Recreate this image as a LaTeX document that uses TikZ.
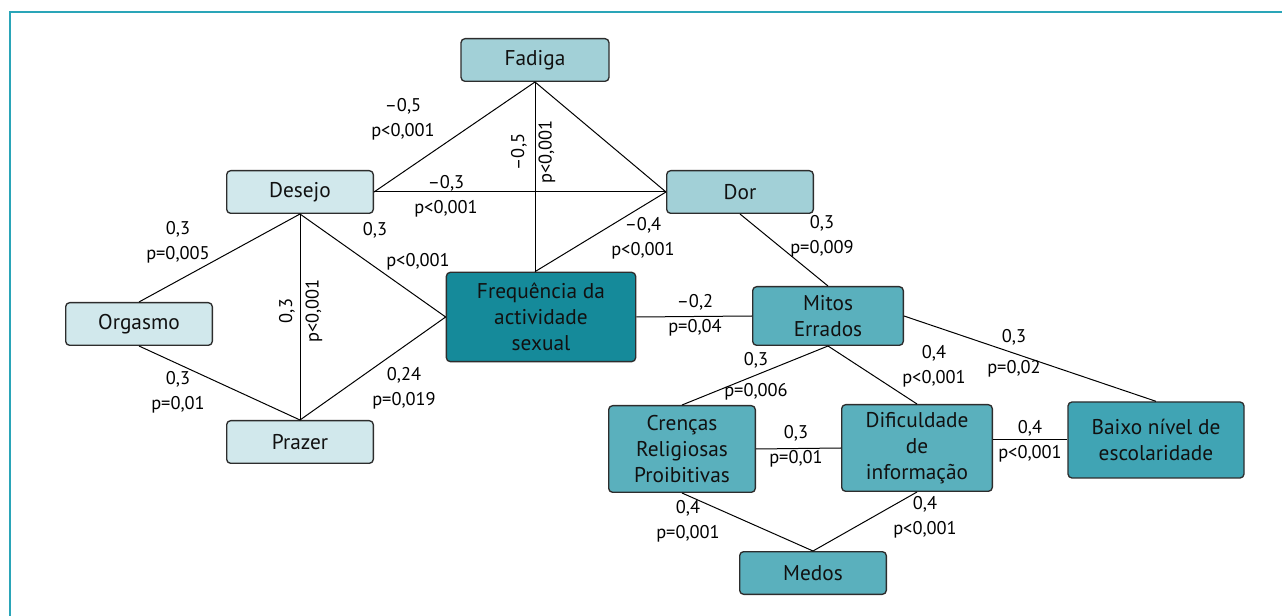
\documentclass[tikz,border=0pt]{standalone}
\usepackage{fontspec}
\setmainfont{PT Sans}

\tikzset{every picture/.style={line width=0.75pt}}
\tikzset{
  box/.style={draw={rgb, 255:red, 45; green, 45; blue, 45}, line width=1pt, rounded corners=3pt, align=center, inner sep=2pt, text={rgb, 255:red, 17; green, 17; blue, 17}, font=\fontsize{16}{19.5}\selectfont},
  pale/.style={box, fill={rgb, 255:red, 209; green, 232; blue, 236}},
  light/.style={box, fill={rgb, 255:red, 162; green, 208; blue, 215}},
  mid/.style={box, fill={rgb, 255:red, 90; green, 176; blue, 189}},
  deep/.style={box, fill={rgb, 255:red, 64; green, 164; blue, 180}},
  dark/.style={box, fill={rgb, 255:red, 21; green, 138; blue, 154}},
  lbl/.style={align=center, inner sep=0pt, font=\fontsize{13.8}{19}\selectfont}
}

\begin{document}
\begin{tikzpicture}[x=0.75pt,y=0.75pt,yscale=-1,xscale=1]
\useasboundingbox (0,0) rectangle (1282,616);

%frame
\draw [color={rgb, 255:red, 42; green, 165; blue, 184 }, line width=1.5pt] (9.5,616) -- (9.5,12.5) -- (1282,12.5) ;

\node [light, minimum width=111pt, minimum height=32pt] (Fadiga) at (535,60) {Fadiga};
\node [pale, minimum width=110pt, minimum height=32pt] (Desejo) at (300,192) {Desejo};
\node [light, minimum width=110pt, minimum height=32pt] (Dor) at (740,192) {Dor};
\node [pale, minimum width=110pt, minimum height=32pt] (Orgasmo) at (139,324) {Orgasmo};
\node [pale, minimum width=110pt, minimum height=32pt] (Prazer) at (300,442) {Prazer};
\node [dark, minimum width=142pt, minimum height=67pt] (Freq) at (541,317) {Frequência da\\actividade\\sexual};
\node [mid, minimum width=113pt, minimum height=44pt] (Mitos) at (828,316) {Mitos\\Errados};
\node [mid, minimum width=110pt, minimum height=65pt] (Crencas) at (682,449) {Crenças\\Religiosas\\Proibitivas};
\node [mid, minimum width=113pt, minimum height=65pt] (Dific) at (917,448) {Dificuldade\\de\\informação};
\node [deep, minimum width=132pt, minimum height=57pt] (Baixo) at (1156,440) {Baixo nível de\\escolaridade};
\node [mid, minimum width=110pt, minimum height=32pt] (Medos) at (813,573) {Medos};

\draw (Fadiga.south) -- (Desejo.east) ;
\draw (Fadiga.south) -- (Fadiga.south |- Freq.north) ;
\draw (Fadiga.south) -- (Dor.west) ;
\draw (Desejo.east) -- (Dor.west) ;
\draw (Dor.west) -- (Fadiga.south |- Freq.north) ;
\draw (Desejo.south) -- (Orgasmo.north) ;
\draw (Desejo.south) -- (Prazer.north) ;
\draw (Desejo.south) -- (Freq.west) ;
\draw (Orgasmo.south) -- (Prazer.north) ;
\draw (Prazer.north) -- (Freq.west) ;
\draw (Freq.east) -- (Mitos.west) ;
\draw (Dor.south) -- (Mitos.north) ;
\draw (Mitos.south) -- (Crencas.north) ;
\draw (Mitos.south) -- (Dific.north) ;
\draw (Mitos.east) -- (Baixo.north) ;
\draw (Crencas.east) -- (Dific.west) ;
\draw (Dific.east |- Baixo.west) -- (Baixo.west) ;
\draw (Crencas.south) -- (Medos.north) ;
\draw (Dific.south) -- (Medos.north) ;

\node [lbl] (lFadDes) at (403,119) {–0,5\\p<0,001};
\node [lbl, rotate=90] (lFadFreqA) at (519,152) {–0,5};
\node [lbl, rotate=90] (lFadFreqB) at (547,152) {p<0,001};
\node [lbl] (lDesDor) at (446,196) {–0,3\\p<0,001};
\node [lbl] (lDorFreq) at (643,238) {–0,4\\p<0,001};
\node [lbl] (lDesOrg) at (178,242) {0,3\\p=0,005};
\node [lbl] (lDesFreqA) at (375,230) {0,3};
\node [lbl] (lDesFreqB) at (418,262) {p<0,001};
\node [lbl, rotate=90] (lDesPrzA) at (287,311) {0,3};
\node [lbl, rotate=90] (lDesPrzB) at (314,311) {p<0,001};
\node [lbl] (lOrgPrz) at (178,392) {0,3\\p=0,01};
\node [lbl] (lPrzFreq) at (404,388) {0,24\\p=0,019};
\node [lbl] (lDorMit) at (822,236) {0,3\\p=0,009};
\node [lbl] (lFreqMit) at (695,315) {–0,2\\p=0,04};
\node [lbl] (lMitCreA) at (756,360) {0,3};
\node [lbl] (lMitCreB) at (756,392) {p=0,006};
\node [lbl] (lMitDif) at (934,366) {0,4\\p<0,001};
\node [lbl] (lMitBai) at (1014,337) {0,3};
\node [lbl] (lMitBaiB) at (1014,369) {p=0,02};
\node [lbl] (lCreDif) at (796,446) {0,3\\p=0,01};
\node [lbl] (lDifBai) at (1030,441) {0,4\\p<0,001};
\node [lbl] (lCreMed) at (688,521) {0,4\\p=0,001};
\node [lbl] (lDifMed) at (925,517) {0,4\\p<0,001};

\end{tikzpicture}
\end{document}
